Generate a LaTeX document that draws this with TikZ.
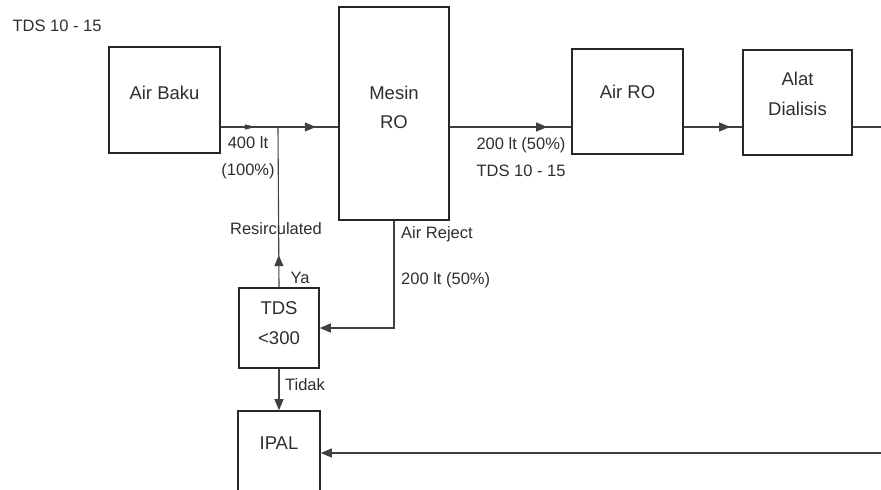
\documentclass[tikz,border=0pt]{standalone}
\usepackage{fontspec}
\setmainfont{Liberation Sans}
\usepackage{tikz}
\usetikzlibrary{arrows.meta, positioning, calc, decorations.markings}
\definecolor{inkgray}{HTML}{2E2E2E}
\definecolor{linegray}{HTML}{404040}
\tikzset{
    box/.style={rectangle, draw=black!85, line width=1.6pt, inner sep=0pt, align=center, text=inkgray, font=\fontsize{18.5}{29.5}\selectfont},
    lbl/.style={inner sep=0pt, text=inkgray, font=\fontsize{16.5}{27}\selectfont},
    flow/.style={draw=linegray, line width=1.1pt},
    tip/.style={-{Triangle[length=11pt,width=9pt]}},
    arrowat/.style={postaction={decorate}, decoration={markings, mark=at position #1 with {\arrow{Triangle[length=11pt,width=9pt]}}}}
}

\begin{document}
\begin{tikzpicture}[x=1pt, y=-1pt]
    \useasboundingbox (0,0) rectangle (881,490);

    % boxes
    \node (baku) [box, minimum width=111pt, minimum height=106pt, text depth=14pt] at (164.5,100) {Air Baku};
    \node (mesin) [box, minimum width=110pt, minimum height=213pt, text depth=12pt] at (394,113.5) {Mesin\\RO};
    \node (airro) [box, minimum width=111pt, minimum height=105pt, text depth=19pt] at (627.5,101.5) {Air RO};
    \node (alat) [box, minimum width=109pt, minimum height=105pt, text depth=17pt] at (797.5,102.5) {Alat\\Dialisis};
    \node (tds) [box, minimum width=80pt, minimum height=80pt, text depth=10pt] at (279,328) {TDS\\<300};
    \node (ipal) [box, minimum width=82pt, minimum height=86pt, text depth=22pt] at (279,454) {IPAL};

    \coordinate (jn) at (278,127);
    \coordinate (dialout) at (881,127);
    \coordinate (ipalin) at (881,453);

    % connectors
    \draw [flow, postaction={decorate}, decoration={markings,
        mark=at position 35pt with {\arrow{Triangle[length=11pt,width=5pt]}},
        mark=at position 95pt with {\arrow{Triangle[length=11pt,width=9pt]}}}]
        (baku.east |- jn) -- (mesin.west |- jn);
    \draw [flow, arrowat=-24pt] (mesin.east |- jn) -- (airro.west |- jn);
    \draw [flow, arrowat=-12pt] (airro.east |- jn) -- (alat.west |- jn);
    \draw [flow] (alat.east |- jn) -- (dialout);
    \draw [flow, arrowat=32pt] (tds.north) -- (jn);
    \draw [flow, tip] (mesin.south) |- (tds.east);
    \draw [flow, tip] (tds.south) -- (ipal.north);
    \draw [flow, tip] (ipalin) -- (ipal.east |- ipalin);

    % labels
    \node (tdsin) [lbl] at (57,26) {TDS 10 - 15};
    \node (qin) [lbl, align=center] at (248,158) {400 lt\\(100\%)};
    \node (qro) [lbl, align=center] at (521,157.5) {200 lt (50\%)\\TDS 10 - 15};
    \node (reject) [lbl, anchor=west] at (401,234) {Air Reject};
    \node (qrej) [lbl, anchor=west] at (401,280) {200 lt (50\%)};
    \node (resirc) [lbl] at (276,229) {Resirculated};
    \node (ya) [lbl] at (300,278) {Ya};
    \node (tidak) [lbl] at (305,385) {Tidak};
\end{tikzpicture}
\end{document}
